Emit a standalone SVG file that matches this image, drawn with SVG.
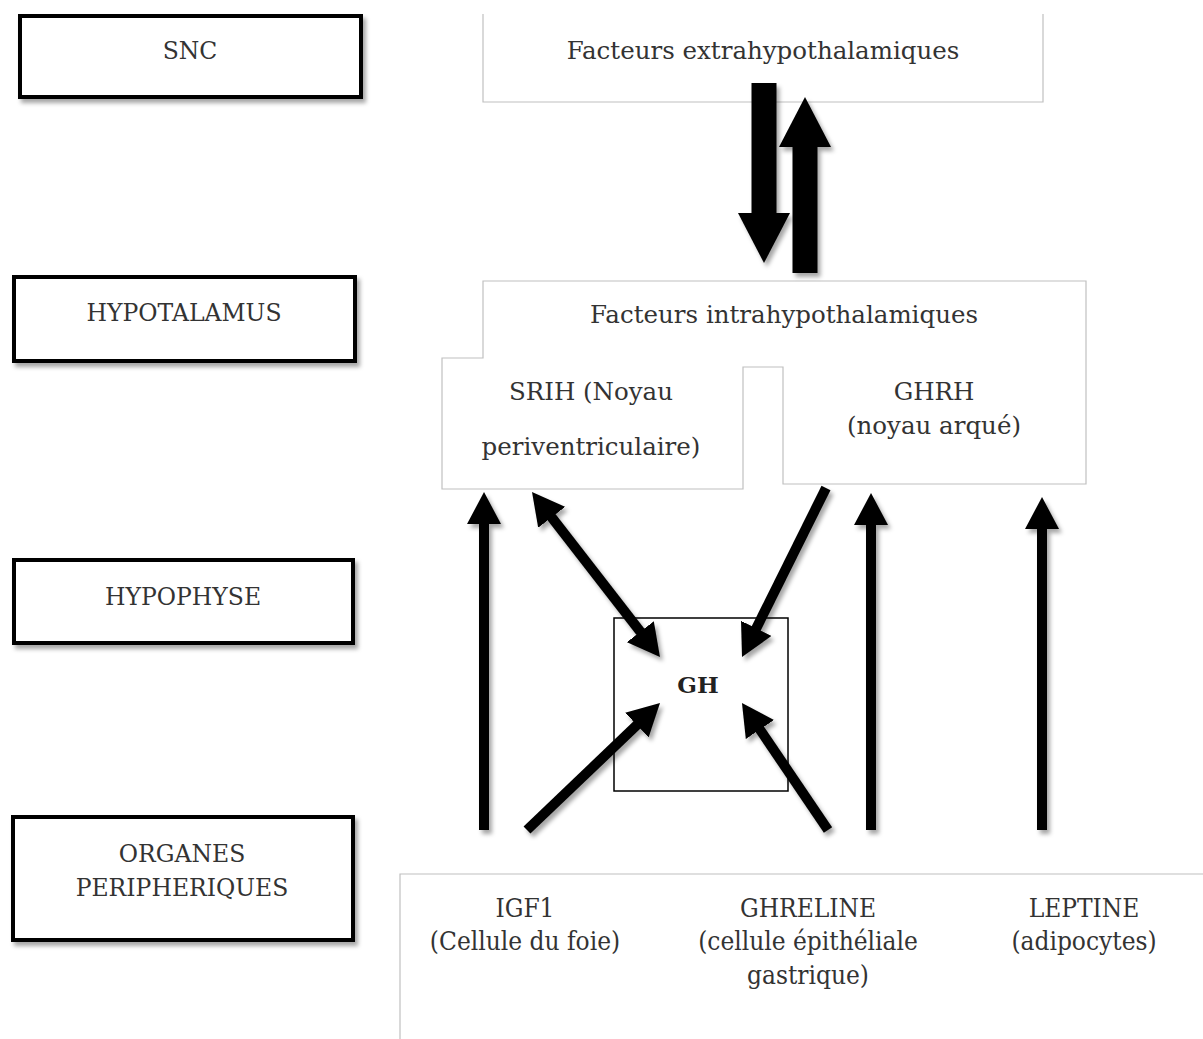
<svg xmlns="http://www.w3.org/2000/svg" width="1203" height="1039" viewBox="0 0 1203 1039">
<style>
.t{font-family:"DejaVu Serif","Liberation Serif",serif;font-size:24.5px;fill:#333;text-anchor:middle}
.l{font-size:23.5px}
.c{font-family:"DejaVu Serif Condensed","DejaVu Serif","Liberation Serif",serif;font-size:26px;fill:#333;text-anchor:middle}
.lvl{fill:#fff;stroke:#000;stroke-width:4}
.thin{fill:#fff;stroke:#c0c0c0;stroke-width:1.2}
.shaft{stroke:#000;stroke-width:10;fill:none}
.big{stroke:#000;stroke-width:25;fill:none}
</style>
<defs>
<filter id="sh" x="-20%" y="-20%" width="150%" height="150%">
<feDropShadow dx="3" dy="4" stdDeviation="2" flood-color="#000" flood-opacity="0.35"/>
</filter>
<marker id="hd" markerUnits="userSpaceOnUse" markerWidth="32" markerHeight="34" viewBox="0 0 32 34" refX="10" refY="17" orient="auto-start-reverse">
<path d="M0,0 L32,17 L0,34 z" fill="#000"/>
</marker>
<marker id="bh" markerUnits="userSpaceOnUse" markerWidth="50" markerHeight="52" viewBox="0 0 50 52" refX="20" refY="26" orient="auto">
<path d="M0,0 L50,26 L0,52 z" fill="#000"/>
</marker>
</defs>
<rect width="1203" height="1039" fill="#fff"/>

<g id="snc" filter="url(#sh)"><rect class="lvl" x="20" y="16" width="341" height="81"/></g>
<text class="t l" x="190" y="59">SNC</text>
<g id="hypotalamus" filter="url(#sh)"><rect class="lvl" x="14" y="277" width="341" height="84"/></g>
<text class="t l" x="184" y="321">HYPOTALAMUS</text>
<g id="hypophyse" filter="url(#sh)"><rect class="lvl" x="14" y="560" width="339" height="83"/></g>
<text class="t l" x="183" y="605">HYPOPHYSE</text>
<g id="organes" filter="url(#sh)"><rect class="lvl" x="13" y="817" width="340" height="123"/></g>
<g><text class="t l" x="182" y="862">ORGANES</text><text class="t l" x="182" y="896">PERIPHERIQUES</text></g>

<g id="extra">
<path d="M483,14 V102 H1043 V14" class="thin"/>
<text class="t" x="763" y="59">Facteurs extrahypothalamiques</text>
</g>

<g id="intra">
<path class="thin" d="M483,281 H1086 V484 H783 V367 H743 V489 H442 V358 H483 Z"/>
<text class="t" x="784" y="323">Facteurs intrahypothalamiques</text>
<text class="t" x="591" y="400">SRIH (Noyau</text>
<text class="t" x="591" y="455">periventriculaire)</text>
<text class="t" x="934" y="400">GHRH</text>
<text class="t" x="934" y="434">(noyau arqué)</text>
</g>

<g id="gh">
<rect x="614" y="618" width="174" height="173" fill="#fff" stroke="#000" stroke-width="1.5"/>
<text class="t" x="698" y="693" style="font-weight:bold;fill:#222;font-size:23px">GH</text>
</g>

<g id="peripheriques">
<path d="M400,1039 V874 H1203" class="thin"/>
<text class="c" x="525" y="917">IGF1</text>
<text class="c" x="525" y="950">(Cellule du foie)</text>
<text class="c" x="808" y="917">GHRELINE</text>
<text class="c" x="808" y="950">(cellule épithéliale</text>
<text class="c" x="808" y="984">gastrique)</text>
<text class="c" x="1084" y="917">LEPTINE</text>
<text class="c" x="1084" y="950">(adipocytes)</text>
</g>

<g id="connectors" filter="url(#sh)">
<line class="big" x1="764" y1="83" x2="764" y2="233" marker-end="url(#bh)"/>
<line class="big" x1="805" y1="273" x2="805" y2="127" marker-end="url(#bh)"/>
<line class="shaft" x1="484" y1="830" x2="484" y2="514" marker-end="url(#hd)"/>
<line class="shaft" x1="545.5" y1="509.4" x2="646.5" y2="639.6" marker-start="url(#hd)" marker-end="url(#hd)"/>
<line class="shaft" x1="826" y1="488" x2="751.8" y2="637.3" marker-end="url(#hd)"/>
<line class="shaft" x1="527" y1="830" x2="644.1" y2="718.2" marker-end="url(#hd)"/>
<line class="shaft" x1="828" y1="830" x2="754.3" y2="721.2" marker-end="url(#hd)"/>
<line class="shaft" x1="871" y1="830" x2="871" y2="515" marker-end="url(#hd)"/>
<line class="shaft" x1="1042" y1="830" x2="1042" y2="519" marker-end="url(#hd)"/>
</g>
</svg>
